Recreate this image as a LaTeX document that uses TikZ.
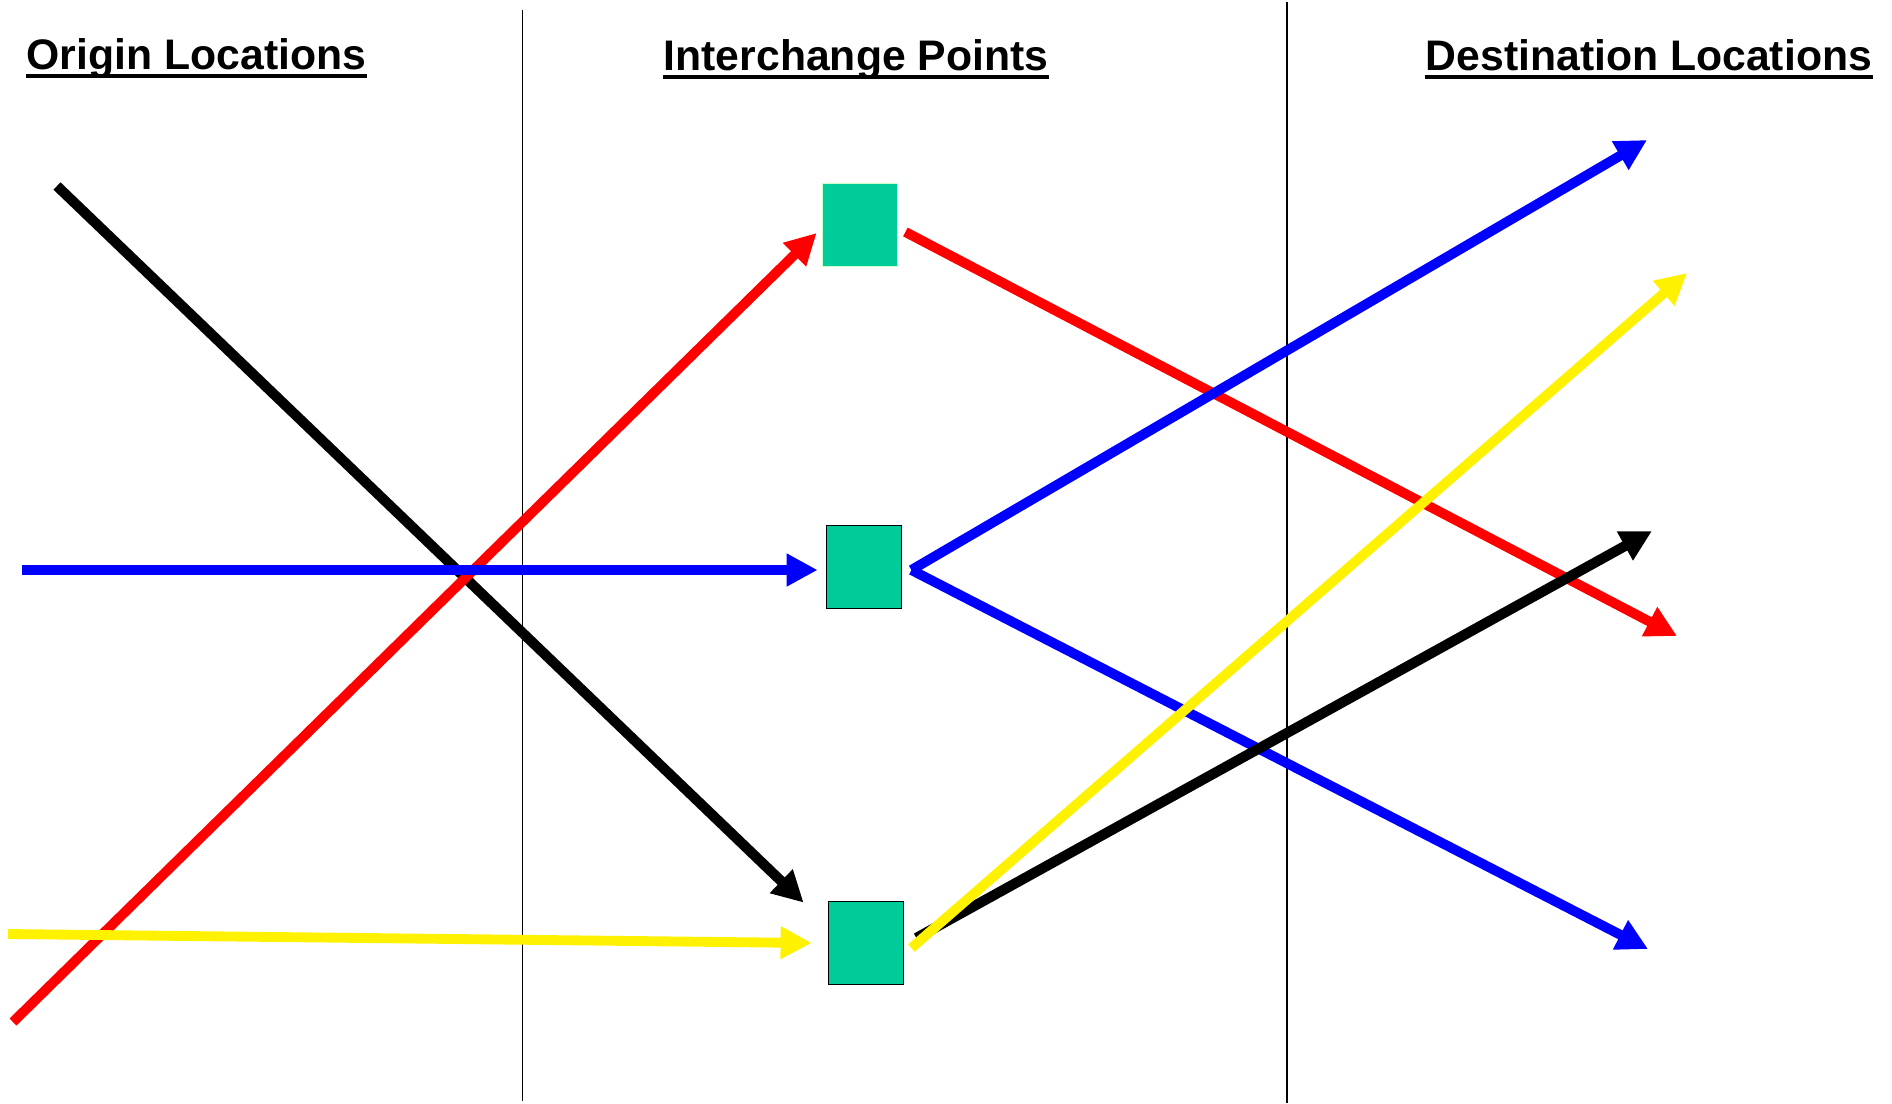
\documentclass[tikz,border=0pt]{standalone}
\usepackage{fontspec}
\setmainfont{Liberation Sans}
\usepackage{xcolor}
\usetikzlibrary{arrows.meta,calc}
\definecolor{hubgreen}{HTML}{00CC99}
\definecolor{hubedge}{HTML}{CCFFCC}
\tikzset{
    heading/.style={anchor=base west, inner sep=0pt, font=\fontsize{12.15}{14}\selectfont\bfseries},
    uline/.style={line width=1pt},
    divider/.style={line width=0.35pt},
    % Interchange point boxes
    hub/.style={rectangle, fill=hubgreen, draw=black, line width=0.5pt, minimum width=0.75cm, minimum height=0.83cm, inner sep=0pt},
    % Flow arrows
    flow/.style={line width=2.8pt, -{Triangle[length=0.31cm, width=0.31cm]}},
    blackflow/.style={flow, line width=2.9pt, black},
    redflow/.style={flow, red},
    blueflow/.style={flow, blue},
    yellowflow/.style={flow, yellow}
}
\begin{document}
\begin{tikzpicture}[x=0.01cm, y=-0.01cm]
\useasboundingbox (0,0) rectangle (1892,1103);

% Column headings
\node[heading] (orig) at (26,69) {Origin Locations};
\node[heading] (inter) at (663,70) {Interchange Points};
\node[heading] (dest) at (1425,70) {Destination Locations};
\foreach \t in {orig, inter, dest}
    \draw[uline] ([yshift=-2pt]\t.base west) -- ([yshift=-2pt]\t.base east);

% Column dividers
\draw[divider] (522.5,10) -- (522.5,1101);
\draw[divider] (1287,2) -- (1287,1103);

% Interchange points
\node[hub, draw=hubedge] (top) at (860,225) {};
\node[hub] (mid) at (864,567) {};
\node[hub] (bot) at (866,943) {};

% Origin ends
\coordinate (oBlack) at (57,186);
\coordinate (oBlue) at (22,570);
\coordinate (oYellow) at (8,934);
\coordinate (oRed) at (13,1022);

% Destination ends
\coordinate (dBlue1) at (1647,140);
\coordinate (dYellow) at (1687,273);
\coordinate (dBlack) at (1652,531);
\coordinate (dRed) at (1677,636);
\coordinate (dBlue2) at (1648,949);

% Origin to interchange
\draw[blackflow] (oBlack) -- ($(bot.north west)+(-24,2)$);
\draw[redflow] (oRed) -- ($(top.west)+(-5,8)$);
\draw[blueflow] (oBlue) -- ($(mid.west)+(-8,3)$);
\draw[yellowflow] (oYellow) -- ($(bot.west)+(-16,0)$);

% Interchange to destination
\draw[redflow] ($(top.east)+(7,7)$) -- (dRed);
\draw[blueflow] ($(mid.east)+(9,3)$) -- (dBlue1);
\draw[blueflow] ($(mid.east)+(9,3)$) -- (dBlue2);
\draw[blackflow] ($(bot.east)+(12,-5)$) -- (dBlack);
\draw[yellowflow] ($(bot.east)+(7,5)$) -- (dYellow);
\end{tikzpicture}
\end{document}
